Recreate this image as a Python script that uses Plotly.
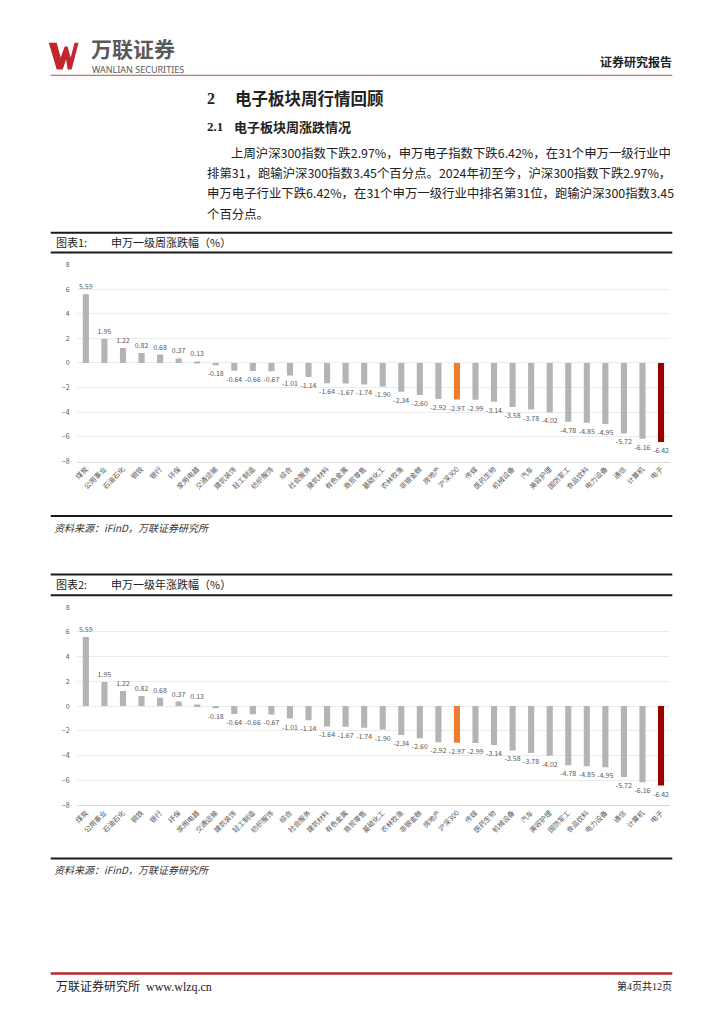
import plotly.graph_objects as go

categories = ["煤炭", "公用事业", "石油石化", "钢铁", "银行", "环保", "家用电器", "交通运输",
              "建筑装饰", "轻工制造", "纺织服饰", "综合", "社会服务", "建筑材料", "有色金属",
              "商贸零售", "基础化工", "农林牧渔", "非银金融", "房地产", "沪深300", "传媒",
              "医药生物", "机械设备", "汽车", "美容护理", "国防军工", "食品饮料", "电力设备",
              "通信", "计算机", "电子"]
week_values = [5.59, 1.95, 1.22, 0.82, 0.68, 0.37, 0.13, -0.18, -0.64, -0.66, -0.67, -1.01,
               -1.14, -1.64, -1.67, -1.74, -1.90, -2.34, -2.60, -2.92, -2.97, -2.99, -3.14,
               -3.58, -3.78, -4.02, -4.78, -4.85, -4.95, -5.72, -6.16, -6.42]
year_values = [5.59, 1.95, 1.22, 0.82, 0.68, 0.37, 0.13, -0.18, -0.64, -0.66, -0.67, -1.01,
               -1.14, -1.64, -1.67, -1.74, -1.90, -2.34, -2.60, -2.92, -2.97, -2.99, -3.14,
               -3.58, -3.78, -4.02, -4.78, -4.85, -4.95, -5.72, -6.16, -6.42]
y_ticks = [-8, -6, -4, -2, 0, 2, 4, 6, 8]

W, H = 724, 1024
FONT = "Noto Sans CJK SC"


def px(x):
    return x / W


def py(y):
    return 1 - y / H


def bar_colors(cats):
    out = []
    for c in cats:
        if c == "沪深300":
            out.append("#ED7D31")
        elif c == "电子":
            out.append("#990000")
        else:
            out.append("#B4B4B4")
    return out


fig = go.Figure()
for vals, xa, ya in [(week_values, "x", "y"), (year_values, "x2", "y2")]:
    fig.add_trace(go.Bar(
        x=categories, y=vals, xaxis=xa, yaxis=ya,
        marker=dict(color=bar_colors(categories), line=dict(width=0)),
        width=0.33,
        text=[f"{v:.2f}" for v in vals], textposition="outside",
        constraintext="none", cliponaxis=False,
        textfont=dict(size=7, color="#595959", family=FONT),
        outsidetextfont=dict(size=7, color="#595959", family=FONT),
        showlegend=False, hoverinfo="skip",
    ))

axis_common_x = dict(type="category", tickangle=-45, tickfont=dict(size=7, color="#595959", family=FONT),
                     showgrid=False, showline=True, linecolor="#D9D9D9", linewidth=1, ticks="",
                     fixedrange=True)
axis_common_y = dict(range=[-8, 8], tickvals=y_ticks, tickfont=dict(size=7, color="#595959", family=FONT),
                     showgrid=True, gridcolor="#EBEBEB", gridwidth=1, zeroline=False, showline=False,
                     ticks="", ticklabelstandoff=6, fixedrange=True)

fig.update_layout(
    width=W, height=H, margin=dict(l=0, r=0, t=0, b=0),
    paper_bgcolor="white", plot_bgcolor="rgba(0,0,0,0)",
    font=dict(family=FONT),
    xaxis=dict(domain=[px(73), px(670)], anchor="y", **axis_common_x),
    yaxis=dict(domain=[py(460), py(261)], anchor="x", **axis_common_y),
    xaxis2=dict(domain=[px(73), px(670)], anchor="y2", **axis_common_x),
    yaxis2=dict(domain=[py(807), py(607)], anchor="x2", **axis_common_y),
    bargap=0.6,
)

shapes = []


def hline(y, x0, x1, color, width):
    shapes.append(dict(type="line", xref="paper", yref="paper", x0=px(x0), x1=px(x1),
                       y0=py(y), y1=py(y), line=dict(color=color, width=width)))


# header & footer lines
hline(70, 47, 672, "#C9746F", 1.2)
hline(977, 47, 672, "#B8282D", 2.5)
# chart 1 frame lines
hline(229, 47, 672, "#1A1A1A", 2)
hline(249, 47, 672, "#1A1A1A", 2)
hline(515, 47, 672, "#1A1A1A", 2)
# chart 2 frame lines
hline(574, 47, 672, "#1A1A1A", 2)
hline(595, 47, 672, "#1A1A1A", 2)
hline(861, 47, 672, "#1A1A1A", 2)

# logo W
logo_pts = [(45, 37), (53, 37), (57, 52), (61, 41), (64, 41), (67, 52), (71, 37), (75, 37),
            (68, 64), (64, 64), (62.5, 54), (59, 64), (53, 64)]
path = "M " + " L ".join(f"{px(x):.5f},{py(y):.5f}" for x, y in logo_pts) + " Z"
shapes.append(dict(type="path", xref="paper", yref="paper", path=path,
                   fillcolor="#C1272D", line=dict(width=0)))

annotations = []


def text(x, y, s, size, color="#222222", anchor="left", bold=False, italic=False, family=FONT):
    if bold:
        s = f"<b>{s}</b>"
    annotations.append(dict(xref="paper", yref="paper", x=px(x), y=py(y), text=s, showarrow=False,
                            xanchor=anchor, yanchor="middle", borderpad=0,
                            font=dict(size=size, color=color, family=family,
                                      style="italic" if italic else "normal")))


# header
text(86, 42.5, "万联证券", 21, color="#595959", bold=True)
text(87, 64, "WANLIAN SECURITIES", 9, color="#595959", family="Noto Sans")
text(673, 56, "证券研究报告", 12, color="#222222", anchor="right", bold=True)

# section titles
text(203, 93, "2", 16, bold=True, family="Liberation Serif")
text(231, 93, "电子板块周行情回顾", 16.5, bold=True)
text(203, 122, "2.1", 13, bold=True, family="Liberation Serif")
text(230, 122, "电子板块周涨跌情况", 13, bold=True)

# paragraph
para = [
    (227, 148, "上周沪深300指数下跌2.97%，申万电子指数下跌6.42%，在31个申万一级行业中"),
    (203, 169, "排第31，跑输沪深300指数3.45个百分点。2024年初至今，沪深300指数下跌2.97%，"),
    (203, 189, "申万电子行业下跌6.42%，在31个申万一级行业中排名第31位，跑输沪深300指数3.45"),
    (203, 210, "个百分点。"),
]
for x, y, s in para:
    text(x, y, s, 12.4, color="#222222")

# chart titles
text(51, 238, "图表1:", 11, color="#222222")
text(107, 238, "申万一级周涨跌幅（%）", 11, color="#222222")
text(51, 584, "图表2:", 11, color="#222222")
text(107, 584, "申万一级年涨跌幅（%）", 11, color="#222222")

# sources
text(49, 527, "资料来源：iFinD，万联证券研究所", 10, color="#333333", italic=True)
text(49, 872, "资料来源：iFinD，万联证券研究所", 10, color="#333333", italic=True)

# footer
text(51, 990, "万联证券研究所  www.wlzq.cn", 12, color="#222222", family="Liberation Serif, " + FONT)
text(673, 990, "第4页共12页", 10, color="#222222", anchor="right", family="Liberation Serif, " + FONT)

fig.update_layout(shapes=shapes, annotations=annotations)
fig.write_html("out.html", config={"displayModeBar": False},
               post_script="document.body.style.margin='0';")
